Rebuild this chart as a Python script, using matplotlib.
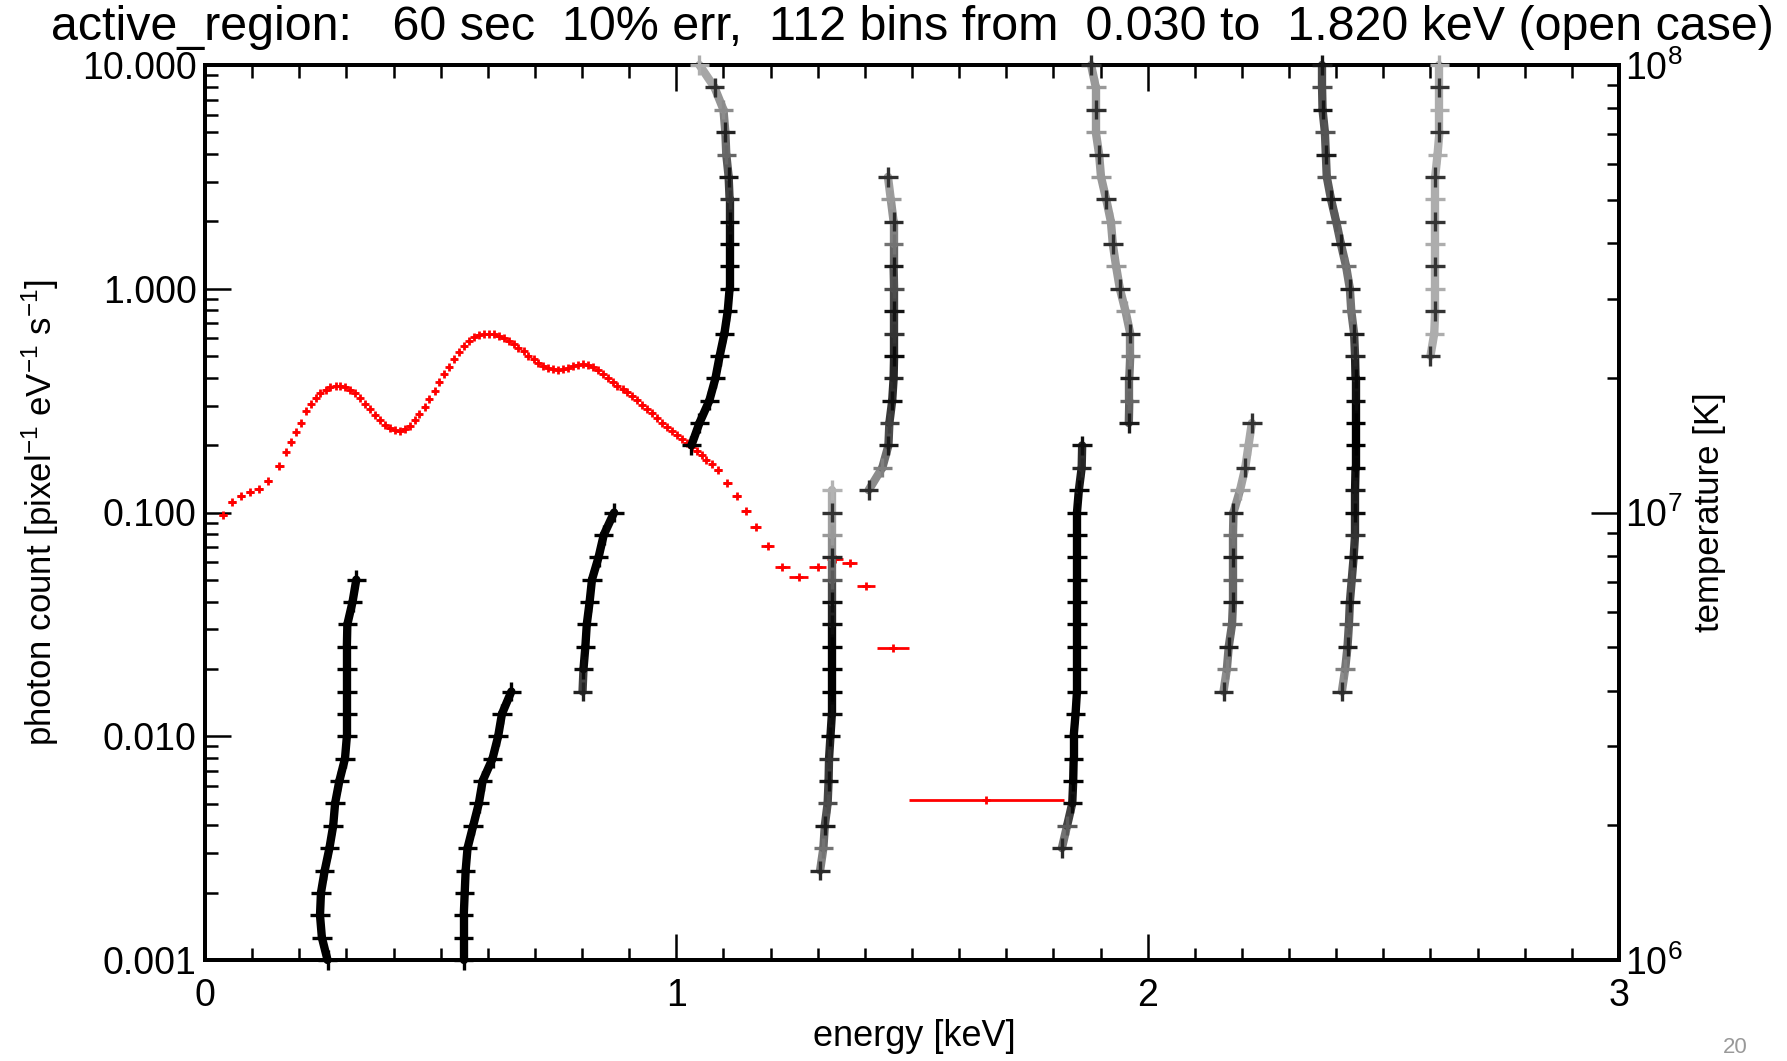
import numpy as np
import matplotlib.pyplot as plt
from matplotlib.collections import LineCollection
from matplotlib.ticker import FixedLocator, MultipleLocator, LogLocator, NullFormatter, FuncFormatter

plt.rcParams['font.family'] = ['Liberation Sans', 'DejaVu Sans']
plt.rcParams['mathtext.fontset'] = 'custom'
plt.rcParams['mathtext.rm'] = 'Liberation Sans'
plt.rcParams['mathtext.it'] = 'Liberation Sans:italic'

# binned spectrum: bin centre [keV], photon count [pixel^-1 eV^-1 s^-1], bin half width [keV]
spec_energy = [
    0.038, 0.057, 0.076, 0.095, 0.114, 0.134, 0.158,
    0.172, 0.182, 0.193, 0.203, 0.214, 0.224, 0.235, 0.245, 0.256, 0.266,
    0.277, 0.287, 0.298, 0.308, 0.319, 0.329, 0.340, 0.350, 0.361, 0.371,
    0.382, 0.392, 0.403, 0.413, 0.424, 0.434, 0.445, 0.455, 0.466, 0.476,
    0.487, 0.497, 0.508, 0.518, 0.529, 0.539, 0.550, 0.560, 0.571, 0.581,
    0.592, 0.602, 0.613, 0.623, 0.634, 0.644, 0.655, 0.665, 0.676, 0.686,
    0.697, 0.707, 0.718, 0.728, 0.739, 0.749, 0.760, 0.770, 0.781, 0.791,
    0.802, 0.812, 0.823, 0.833, 0.844, 0.854, 0.865, 0.875, 0.886, 0.896,
    0.907, 0.917, 0.928, 0.938, 0.949, 0.959, 0.970, 0.980, 0.991, 1.001,
    1.012, 1.022, 1.033, 1.043, 1.054, 1.064, 1.075,
    1.088, 1.108, 1.128, 1.148, 1.168, 1.194, 1.225, 1.260, 1.300, 1.336,
    1.368, 1.403, 1.459, 1.6575,
]
spec_count = [
    0.0977, 0.111, 0.118, 0.124, 0.128, 0.139, 0.161,
    0.186, 0.206, 0.229, 0.252, 0.283, 0.305, 0.325, 0.342, 0.353, 0.362,
    0.367, 0.367, 0.362, 0.354, 0.342, 0.325, 0.306, 0.290, 0.274, 0.259,
    0.247, 0.238, 0.233, 0.231, 0.235, 0.244, 0.258, 0.275, 0.296, 0.322,
    0.350, 0.384, 0.418, 0.448, 0.485, 0.521, 0.555, 0.583, 0.606, 0.620,
    0.628, 0.630, 0.627, 0.617, 0.602, 0.585, 0.565, 0.546, 0.525, 0.503,
    0.484, 0.467, 0.452, 0.442, 0.437, 0.435, 0.437, 0.443, 0.452, 0.458,
    0.460, 0.457, 0.448, 0.434, 0.418, 0.400, 0.383, 0.369, 0.357, 0.344,
    0.331, 0.318, 0.303, 0.290, 0.277, 0.264, 0.252, 0.242, 0.232, 0.222,
    0.212, 0.204, 0.197, 0.189, 0.180, 0.172, 0.164,
    0.155, 0.136, 0.118, 0.102, 0.0865, 0.0706, 0.0573, 0.0517, 0.0573, 0.0622,
    0.0592, 0.0468, 0.0247, 0.0052,
]
spec_halfwidth = (
    [0.009] * 7
    + [0.005] * 87
    + [0.009, 0.010, 0.010, 0.010, 0.011, 0.014, 0.016, 0.020, 0.018, 0.017,
       0.016, 0.019, 0.034, 0.1645]
)

# temperature grid, log10(T/K)
log_temp = [6.00, 6.05, 6.10, 6.15, 6.20, 6.25, 6.30, 6.35, 6.40, 6.45,
            6.50, 6.55, 6.60, 6.65, 6.70, 6.75, 6.80, 6.85, 6.90, 6.95,
            7.00, 7.05, 7.10, 7.15, 7.20, 7.25, 7.30, 7.35, 7.40, 7.45,
            7.50, 7.55, 7.60, 7.65, 7.70, 7.75, 7.80, 7.85, 7.90, 7.95, 8.00]

# line tracks: energy [keV] from lowest temperature upward, grey level (0 black, 1 white)
track_a_tmin = 6.00
track_a_energy = [0.260, 0.248, 0.244, 0.246, 0.254, 0.264, 0.272, 0.276, 0.285,
                  0.297, 0.301, 0.301, 0.301, 0.301, 0.301, 0.302, 0.313, 0.321]
track_a_gray = [0.0] * 18

track_b_tmin = 6.00
track_b_energy = [0.549, 0.549, 0.549, 0.551, 0.553, 0.557, 0.569, 0.581, 0.589,
                  0.610, 0.622, 0.630, 0.650]
track_b_gray = [0.0] * 13

track_c_tmin = 6.60
track_c_energy = [0.801, 0.803, 0.807, 0.810, 0.816, 0.821, 0.835, 0.846, 0.868]
track_c_gray = [0.45, 0.05, 0.0, 0.0, 0.0, 0.0, 0.0, 0.0, 0.05]

track_d_tmin = 7.15
track_d_energy = [1.032, 1.049, 1.070, 1.083, 1.092, 1.102, 1.109, 1.113, 1.113,
                  1.113, 1.113, 1.113, 1.111, 1.106, 1.104, 1.100, 1.081, 1.049]
track_d_gray = [0.0, 0.0, 0.0, 0.0, 0.0, 0.0, 0.0, 0.0, 0.0, 0.0,
                0.1, 0.2, 0.3, 0.4, 0.45, 0.55, 0.62, 0.68]

track_e_tmin = 7.05
track_e_energy = [1.408, 1.437, 1.450, 1.452, 1.458, 1.461, 1.462, 1.462, 1.462,
                  1.462, 1.461, 1.461, 1.461, 1.455, 1.449]
track_e_gray = [0.6, 0.5, 0.35, 0.25, 0.2, 0.15, 0.15, 0.2, 0.25, 0.3, 0.35,
                0.45, 0.55, 0.6, 0.65]

track_f_tmin = 6.20
track_f_energy = [1.305, 1.312, 1.315, 1.321, 1.323, 1.324, 1.327, 1.330, 1.330,
                  1.330, 1.330, 1.330, 1.330, 1.330, 1.330, 1.330, 1.330, 1.330]
track_f_gray = [0.55, 0.45, 0.35, 0.3, 0.25, 0.2, 0.1, 0.05, 0.0, 0.0, 0.0,
                0.05, 0.2, 0.35, 0.5, 0.6, 0.65, 0.7]

track_g_tmin = 6.25
track_g_energy = [1.818, 1.829, 1.840, 1.842, 1.843, 1.843, 1.847, 1.850, 1.850,
                  1.850, 1.850, 1.850, 1.850, 1.850, 1.850, 1.850, 1.854, 1.860, 1.861]
track_g_gray = [0.55, 0.35, 0.15] + [0.0] * 13 + [0.05, 0.15, 0.2]

track_h_tmin = 7.20
track_h_energy = [1.960, 1.961, 1.961, 1.963, 1.963, 1.953, 1.941, 1.933, 1.926,
                  1.922, 1.912, 1.901, 1.897, 1.890, 1.890, 1.890, 1.880]
track_h_gray = [0.35, 0.4, 0.45, 0.5, 0.55] + [0.6] * 12

track_i_tmin = 6.60
track_i_energy = [2.412, 2.419, 2.424, 2.427, 2.429, 2.433, 2.437, 2.440, 2.440,
                  2.440, 2.441, 2.441, 2.441, 2.441, 2.441, 2.440, 2.438, 2.432,
                  2.429, 2.421, 2.410, 2.400, 2.389, 2.380, 2.378, 2.376, 2.371,
                  2.370, 2.370]
track_i_gray = [0.6, 0.5, 0.4, 0.35, 0.3, 0.3, 0.25, 0.2, 0.15, 0.1, 0.05, 0.0,
                0.0, 0.05, 0.1, 0.15, 0.4, 0.45, 0.45, 0.45, 0.4, 0.35, 0.35,
                0.35, 0.35, 0.33, 0.3, 0.3, 0.3]

track_j_tmin = 7.35
track_j_energy = [2.600, 2.608, 2.610, 2.610, 2.610, 2.610, 2.610, 2.610, 2.610,
                  2.615, 2.619, 2.619, 2.619, 2.619]
track_j_gray = [0.68] * 14

track_k_tmin = 6.60
track_k_energy = [2.161, 2.168, 2.172, 2.179, 2.181, 2.181, 2.181, 2.181, 2.182,
                  2.196, 2.207, 2.214, 2.221]
track_k_gray = [0.6, 0.5, 0.42, 0.4, 0.4, 0.4, 0.42, 0.45, 0.5, 0.62, 0.65, 0.66, 0.66]

title = ('active_region:   60 sec  10% err,  112 bins from  0.030 to  '
         '1.820 keV (open case)')

W, H = 1787, 1061
fig = plt.figure(figsize=(W / 100, H / 100), dpi=100)
ax = fig.add_axes([205 / W, 101 / H, 1414 / W, 895 / H])
ax.set_xlim(0, 3)
ax.set_yscale('log')
ax.set_ylim(0.001, 10)

# red spectrum with bin widths
ax.errorbar(spec_energy, spec_count, xerr=spec_halfwidth, fmt='+', color='red',
            ms=6, mew=2.0, elinewidth=2.0, capsize=0, zorder=2)

ax2 = ax.twinx()
ax2.set_yscale('log')
ax2.set_ylim(1e6, 1e8)


def draw_track(energy, gray, tmin):
    i0 = int(np.argmin(np.abs(np.array(log_temp) - tmin)))
    temp = 10 ** np.array(log_temp[i0:i0 + len(energy)])
    pts = np.column_stack([energy, temp])
    segs = np.stack([pts[:-1], pts[1:]], axis=1)
    g = np.array(gray)
    seg_g = (g[:-1] + g[1:]) / 2
    lc = LineCollection(segs, colors=[(v, v, v) for v in seg_g], linewidths=6,
                        capstyle='round', joinstyle='round', clip_on=False, zorder=2)
    ax2.add_collection(lc)
    mk = np.where(np.arange(len(g)) % 2 == 0, g * 0.3, g)
    ax2.scatter(energy, temp, marker='+', s=14 ** 2, c=[(v, v, v) for v in mk],
                linewidths=2.4, clip_on=False, zorder=3)


draw_track(track_a_energy, track_a_gray, track_a_tmin)
draw_track(track_b_energy, track_b_gray, track_b_tmin)
draw_track(track_c_energy, track_c_gray, track_c_tmin)
draw_track(track_d_energy, track_d_gray, track_d_tmin)
draw_track(track_e_energy, track_e_gray, track_e_tmin)
draw_track(track_f_energy, track_f_gray, track_f_tmin)
draw_track(track_g_energy, track_g_gray, track_g_tmin)
draw_track(track_h_energy, track_h_gray, track_h_tmin)
draw_track(track_i_energy, track_i_gray, track_i_tmin)
draw_track(track_j_energy, track_j_gray, track_j_tmin)
draw_track(track_k_energy, track_k_gray, track_k_tmin)

# axes styling
for a in (ax, ax2):
    for sp in a.spines.values():
        sp.set_linewidth(2.8)

ax.xaxis.set_major_locator(FixedLocator([0, 1, 2, 3]))
ax.xaxis.set_minor_locator(MultipleLocator(0.1))
ax.tick_params(axis='x', which='both', direction='in', top=True, bottom=True)
ax.tick_params(axis='x', which='major', length=19, width=1.8, labelsize=27, pad=13)
ax.tick_params(axis='x', which='minor', length=9, width=1.8)

ax.yaxis.set_major_locator(LogLocator(base=10, numticks=10))
ax.yaxis.set_minor_locator(LogLocator(base=10, subs=np.arange(2, 10), numticks=20))
ax.yaxis.set_major_formatter(FuncFormatter(lambda v, _: f'{v:.3f}'))
ax.yaxis.set_minor_formatter(NullFormatter())
ax.tick_params(axis='y', which='both', direction='in', left=True, right=False)
ax.tick_params(axis='y', which='major', length=19, width=1.8, labelsize=27, pad=6)
ax.tick_params(axis='y', which='minor', length=9, width=1.8)

ax2.yaxis.set_major_locator(LogLocator(base=10, numticks=10))
ax2.yaxis.set_minor_locator(LogLocator(base=10, subs=np.arange(2, 10), numticks=20))
ax2.yaxis.set_major_formatter(FuncFormatter(lambda v, _: r'$10^{%d}$' % round(np.log10(v))))
ax2.yaxis.set_minor_formatter(NullFormatter())
ax2.tick_params(axis='y', which='both', direction='in', right=True, left=False)
ax2.tick_params(axis='y', which='major', length=20, width=1.8, labelsize=27, pad=4)
ax2.tick_params(axis='y', which='minor', length=9, width=1.8)

fig.text(912 / W, 1 - 27 / H, title, ha='center', va='center', fontsize=34.8)
fig.text(914 / W, 1 - 1037 / H, 'energy [keV]', ha='center', va='center', fontsize=26)
fig.text(40 / W, 1 - 512 / H, r'photon count [pixel$^{-1}$ eV$^{-1}$ s$^{-1}$]',
         ha='center', va='center', rotation=90, fontsize=25)
fig.text(1710 / W, 1 - 512 / H, 'temperature [K]', ha='center', va='center',
         rotation=90, fontsize=25)
fig.text(1735 / W, 1 - 1058 / H, '20', ha='center', va='bottom', fontsize=16, color='#999999')

fig.savefig('out.png', dpi=100)
